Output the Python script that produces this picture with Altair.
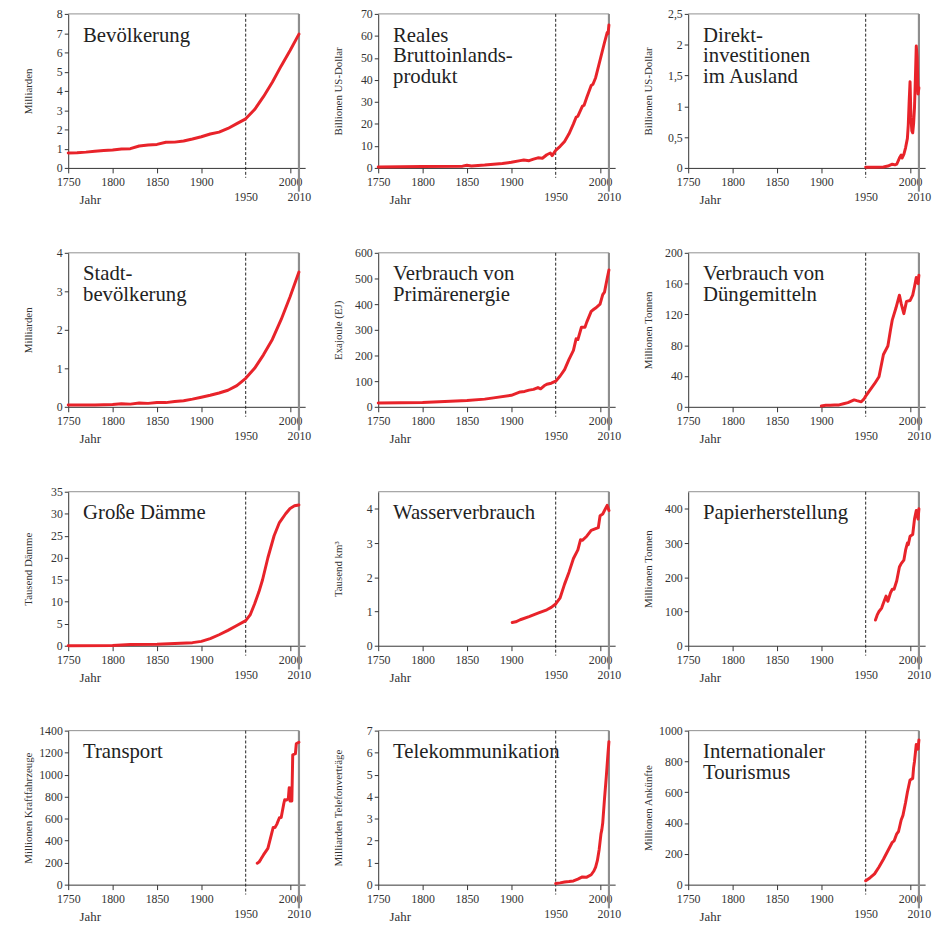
import altair as alt
import pandas as pd

# ---------------- data ----------------
POP_YEARS = [1750,1760,1770,1780,1790,1800,1810,1820,1830,1840,1850,1860,1870,1880,1890,1900,1910,1920,1930,1940,1950,1960,1970,1980,1990,2000,2010]
POP_VALS = [0.78,0.79,0.82,0.87,0.9,0.93,0.98,1.0,1.14,1.19,1.22,1.33,1.34,1.4,1.5,1.62,1.76,1.86,2.05,2.3,2.55,3.03,3.7,4.45,5.3,6.1,6.95]

GDP_YEARS = [1750,1800,1845,1850,1855,1870,1880,1890,1900,1910,1914,1920,1925,1930,1935,1940,1944,1946,1950,1955,1960,1965,1970,1973,1975,1980,1982,1985,1990,1992,1995,2000,2005,2008,2009,2010]
GDP_VALS = [0.4,0.6,0.8,1.2,0.9,1.3,1.7,2.0,2.6,3.3,3.6,3.3,4.0,4.6,4.4,6.0,6.8,5.6,8.0,9.8,12.0,15.5,20.0,23.0,23.5,28.0,28.5,32.0,37.5,38.0,41.0,49.0,57.0,61.5,61.0,65.0]

FDI_YEARS = [1950,1960,1970,1975,1980,1983,1985,1988,1990,1991,1993,1995,1997,1998,1999,2000,2001,2002,2003,2004,2005,2006,2007,2008,2009,2010]
FDI_VALS = [0.01,0.01,0.015,0.03,0.06,0.05,0.06,0.16,0.21,0.16,0.22,0.33,0.48,0.7,1.08,1.4,0.82,0.6,0.57,0.72,0.98,1.45,1.98,1.8,1.2,1.3]

URB_YEARS = [1750,1780,1800,1810,1820,1830,1840,1850,1860,1870,1880,1890,1900,1910,1920,1930,1940,1950,1960,1970,1980,1990,2000,2010]
URB_VALS = [0.05,0.05,0.06,0.08,0.07,0.1,0.09,0.11,0.11,0.14,0.16,0.2,0.25,0.3,0.36,0.43,0.55,0.74,1.0,1.35,1.75,2.27,2.86,3.5]

EN_YEARS = [1750,1800,1850,1870,1880,1900,1910,1915,1920,1925,1930,1933,1937,1940,1945,1950,1955,1960,1965,1970,1973,1975,1979,1980,1983,1985,1990,1993,1995,2000,2003,2005,2008,2010]
EN_VALS = [15,17,25,30,35,45,58,60,65,68,75,70,82,88,92,100,120,145,185,220,265,262,310,310,310,330,372,380,385,400,437,447,500,533]

FE_YEARS = [1900,1905,1910,1915,1920,1925,1930,1937,1940,1945,1948,1950,1955,1960,1965,1970,1975,1978,1980,1984,1988,1990,1993,1996,2000,2003,2005,2007,2008,2009,2010]
FE_VALS = [1,2,2,2.5,2.5,4,5.5,9,8,6.5,10,14,22,30,39,68,79,100,113,128,145,134,121,137,138,145,156,168,162,160,171]

DA_YEARS = [1750,1800,1820,1850,1870,1890,1900,1910,1920,1930,1940,1950,1955,1960,1965,1969,1975,1982,1988,1995,2000,2005,2010]
DA_VALS = [0,0.05,0.3,0.35,0.5,0.7,1.0,1.6,2.5,3.5,4.6,5.7,7.0,9.5,12.3,15,20,25,28,30,31.2,31.8,32]

WA_YEARS = [1901,1905,1910,1920,1930,1940,1945,1950,1955,1960,1965,1970,1975,1978,1980,1985,1990,1995,1998,2000,2003,2005,2008,2010]
WA_VALS = [0.68,0.7,0.76,0.85,0.95,1.05,1.12,1.22,1.4,1.8,2.15,2.55,2.8,3.1,3.08,3.2,3.37,3.42,3.45,3.8,3.85,3.95,4.1,3.95]

PA_YEARS = [1961,1963,1965,1968,1970,1973,1974,1975,1978,1980,1982,1985,1988,1990,1993,1995,1997,1998,2000,2003,2005,2007,2008,2009,2010]
PA_VALS = [75,90,100,110,125,145,135,130,155,165,165,190,230,240,250,280,300,295,320,325,370,395,390,370,400]

TR_YEARS = [1963,1965,1967,1970,1975,1979,1981,1983,1985,1988,1990,1993,1994,1996,1998,1999,2000,2001,2002,2003,2006,2007,2010]
TR_VALS = [195,205,230,270,330,458,520,520,548,608,610,740,772,770,780,880,760,880,760,1180,1190,1280,1295]

TE_YEARS = [1950,1955,1960,1965,1970,1975,1980,1985,1990,1993,1995,1997,1999,2001,2002,2003,2005,2007,2009,2010]
TE_VALS = [0.05,0.08,0.12,0.14,0.17,0.25,0.35,0.34,0.45,0.62,0.8,1.1,1.6,2.3,2.5,2.8,3.9,4.9,6.0,6.5]

TO_YEARS = [1950,1955,1960,1965,1970,1975,1980,1982,1985,1987,1990,1992,1995,1997,2000,2003,2004,2005,2007,2009,2010]
TO_VALS = [25,45,70,115,165,220,275,284,330,345,420,450,535,600,680,690,760,800,910,880,940]

PANELS = [
    ("Bevölkerung", "Milliarden", 8, [0,1,2,3,4,5,6,7,8], POP_YEARS, POP_VALS),
    ("Reales\nBruttoinlands-\nprodukt", "Billionen US-Dollar", 70, [0,10,20,30,40,50,60,70], GDP_YEARS, GDP_VALS),
    ("Direkt-\ninvestitionen\nim Ausland", "Billionen US-Dollar", 2.5, [0,0.5,1,1.5,2,2.5], FDI_YEARS, FDI_VALS),
    ("Stadt-\nbevölkerung", "Milliarden", 4, [0,1,2,3,4], URB_YEARS, URB_VALS),
    ("Verbrauch von\nPrimärenergie", "Exajoule (EJ)", 600, [0,100,200,300,400,500,600], EN_YEARS, EN_VALS),
    ("Verbrauch von\nDüngemitteln", "Millionen Tonnen", 200, [0,40,80,120,160,200], FE_YEARS, FE_VALS),
    ("Große Dämme", "Tausend Dämme", 35, [0,5,10,15,20,25,30,35], DA_YEARS, DA_VALS),
    ("Wasserverbrauch", "Tausend km³", 4.5, [0,1,2,3,4], WA_YEARS, WA_VALS),
    ("Papierherstellung", "Millionen Tonnen", 450, [0,100,200,300,400], PA_YEARS, PA_VALS),
    ("Transport", "Millionen Kraftfahrzeuge", 1400, [0,200,400,600,800,1000,1200,1400], TR_YEARS, TR_VALS),
    ("Telekommunikation", "Milliarden Telefonverträge", 7, [0,1,2,3,4,5,6,7], TE_YEARS, TE_VALS),
    ("Internationaler\nTourismus", "Millionen Ankünfte", 1000, [0,200,400,600,800,1000], TO_YEARS, TO_VALS),
]

X_TICKS = [1750, 1800, 1850, 1900, 1950, 2000, 2010]

# ---------------- style ----------------
W, H = 240, 156
FONT = "Liberation Serif"
RED = "#e8232a"
GRAY = "#8e8e8e"
INK = "#333333"
LOW = "datum.value == 1950 || datum.value == 2010"


def panel(title, ytitle, ymax, yticks, years, vals):
    xscale = alt.Scale(domain=[1750, 2017], nice=False, zero=False)
    xaxis = alt.Axis(
        values=X_TICKS, title="Jahr", grid=False, format="d",
        labelFlush=False, labelOverlap=False,
        labelPadding={"condition": {"test": LOW, "value": 19}, "value": 4},
        tickOpacity={"condition": {"test": LOW, "value": 0}, "value": 1},
        tickSize=5, titleFontSize=13, titleX=11, titleY=36,
        titleAlign="left", titleBaseline="alphabetic",
    )
    yscale = alt.Scale(domain=[0, ymax], nice=False, zero=True)
    yaxis = alt.Axis(
        values=yticks, title=ytitle, grid=False, tickSize=4, labelPadding=2,
        labelExpr="replace(toString(datum.value), '.', ',')",
        titleFontSize=11, titleX=-40, titleY=H / 2, titleAngle=270,
        titleAlign="center", titleBaseline="middle",
    )
    df = pd.DataFrame({"yr": years, "v": vals})
    xenc = lambda f: alt.X(f, type="quantitative", scale=xscale, axis=xaxis)

    top = alt.Chart(pd.DataFrame({"a": [1750], "b": [2010]})).mark_rule(
        color=GRAY, strokeWidth=1).encode(x=xenc("a"), x2="b:Q", y=alt.value(0))
    right = alt.Chart(pd.DataFrame({"yr": [2010]})).mark_rule(
        color=GRAY, strokeWidth=2.2).encode(x=xenc("yr"), y=alt.value(0), y2=alt.value(H + 24))
    dash = alt.Chart(pd.DataFrame({"yr": [1950]})).mark_rule(
        color="#222", strokeWidth=1, strokeDash=[3, 2]).encode(x=xenc("yr"), y=alt.value(0), y2=alt.value(H + 10))
    text = alt.Chart(pd.DataFrame({"t": [title]})).mark_text(
        align="left", baseline="top", font=FONT, fontSize=21, lineHeight=21,
        lineBreak="\n", color="#222").encode(x=alt.value(15), y=alt.value(11), text="t:N")
    line = alt.Chart(df).mark_line(
        color=RED, strokeWidth=3, strokeJoin="round", strokeCap="round").encode(
        x=xenc("yr"), y=alt.Y("v", type="quantitative", scale=yscale, axis=yaxis))
    return alt.layer(top, right, dash, text, line).properties(width=W, height=H)


charts = [panel(*p) for p in PANELS]

chart = alt.concat(
    *charts, columns=3, spacing={"row": 86, "column": 74}, bounds="flush"
).properties(
    padding={"left": 15, "top": -6, "right": 5, "bottom": 5}
).configure_view(stroke=None).configure_axis(
    labelFont=FONT, titleFont=FONT, labelFontSize=12, labelColor=INK,
    titleColor=INK, domainColor=INK, tickColor=INK, titleFontWeight="normal",
)

chart.save("out.html", embed_options={"renderer": "svg", "actions": False})
